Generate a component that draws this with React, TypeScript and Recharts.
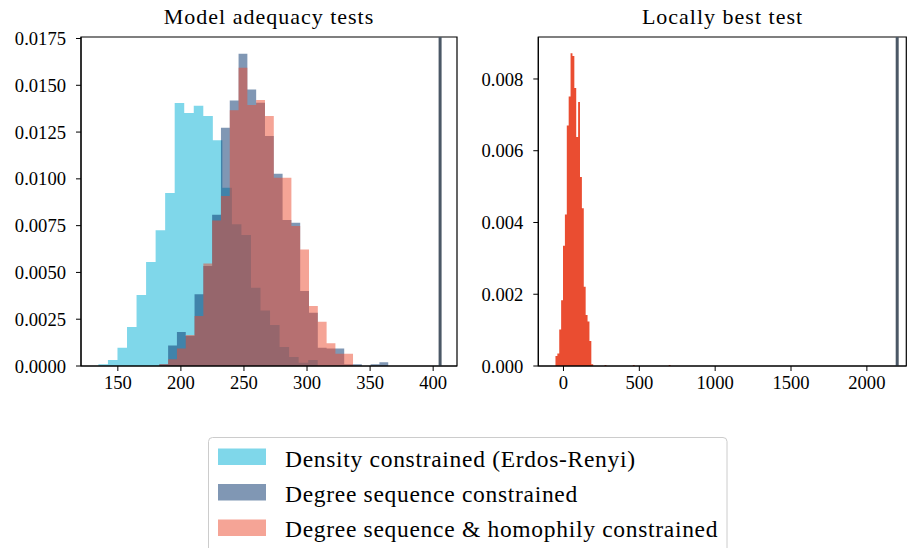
import React from "react";
import {
  ComposedChart,
  Area,
  XAxis,
  YAxis,
  ReferenceLine,
  ReferenceArea,
} from "recharts";

const FONT = '"Liberation Serif", "DejaVu Serif", serif';

// Model adequacy tests: density histograms (first bin edge, bin width, density per bin)
const densityStart = 134.6;
const densityWidth = 7.56;
const densityHeights = [
  0.00009, 0.00032, 0.00098, 0.00208, 0.00379, 0.00556, 0.00725, 0.00924,
  0.01405, 0.01352, 0.01391, 0.01336, 0.01206, 0.00953, 0.00757, 0.007,
  0.00418, 0.00297, 0.00219, 0.00102, 0.00048, 0.00018, 0.00032,
];

const degreeStart = 182.9;
const degreeWidth = 6.98;
const degreeHeights = [
  0.0001, 0.0011, 0.00182, 0.0016, 0.00383, 0.00534, 0.00808, 0.01273,
  0.01419, 0.01669, 0.01478, 0.01407, 0.01229, 0.01027, 0.0078, 0.00766,
  0.00401, 0.00285, 0.00098, 0.00094, 0.00094, 0.00009, 0.00009, 0, 0.00009,
  0.0002,
];

const homophilyStart = 182.9;
const homophilyWidth = 6.98;
const homophilyHeights = [
  0.0001, 0.00036, 0.00093, 0.00166, 0.00267, 0.00548, 0.00778, 0.00908,
  0.01366, 0.01594, 0.01394, 0.01421, 0.01336, 0.01006, 0.01006, 0.00748,
  0.00623, 0.00321, 0.00237, 0.00121, 0.00066, 0.00066,
];

const adequacyObserved = 405.5;
const adequacyXTicks = [150, 200, 250, 300, 350, 400];
const adequacyYTicks = [0, 0.0025, 0.005, 0.0075, 0.01, 0.0125, 0.015, 0.0175];

// Locally best test
const lbStart = -52.8;
const lbWidth = 12.44;
const lbHeights = [
  0.00028, 0.00035, 0.00102, 0.00183, 0.00335, 0.00422, 0.0067, 0.00751,
  0.00872, 0.00864, 0.00775, 0.00638, 0.00736, 0.00527, 0.0044, 0.00221,
  0.00142, 0.00124, 0.0007, 0.00005,
];
const lbOutlierBins = [26, 41, 60];
const lbOutlierHeights = [0.00003, 0.00003, 0.00003];
const lbObserved = 2200;
const lbXTicks = [0, 500, 1000, 1500, 2000];
const lbYTicks = [0, 0.002, 0.004, 0.006, 0.008];

const legendLabels = [
  "Density constrained (Erdos-Renyi)",
  "Degree sequence constrained",
  "Degree sequence & homophily constrained",
];

const CYAN = "#00afd5";
const NAVY = "#012f69";
const RED = "#eb492d";

function histPoints(start: number, width: number, heights: number[]) {
  const pts = heights.map((h, i) => ({ x: start + i * width, y: h }));
  pts.push({ x: start + heights.length * width, y: heights[heights.length - 1] });
  return pts;
}

const lbAll: number[] = [];
for (let i = 0; i <= lbOutlierBins[lbOutlierBins.length - 1]; i++) {
  lbAll.push(i < lbHeights.length ? lbHeights[i] : 0);
}
lbOutlierBins.forEach((b, i) => {
  lbAll[b] = lbOutlierHeights[i];
});

const tickStyle = { fill: "#000", fontSize: 18.6, fontFamily: FONT };

const adqXDomain = [120.8, 418.9];
const adqYDomain = [0, 0.01758];
const lbXDomain = [-166, 2260];
const lbYDomain = [0, 0.00917];

function AdequacyChart() {
  return (
    <ComposedChart
      width={470}
      height={420}
      margin={{ top: 37, right: 13, bottom: 24, left: 0 }}
    >
      <XAxis
        type="number"
        dataKey="x"
        domain={adqXDomain}
        ticks={adequacyXTicks}
        allowDataOverflow
        stroke="#000"
        tickSize={5}
        tickMargin={5}
        height={30}
        tick={tickStyle}
      />
      <YAxis
        type="number"
        domain={adqYDomain}
        ticks={adequacyYTicks}
        allowDataOverflow
        tickFormatter={(v: number) => v.toFixed(4)}
        stroke="#000"
        tickSize={5}
        tickMargin={10}
        width={81}
        tick={tickStyle}
      />
      <Area
        data={histPoints(densityStart, densityWidth, densityHeights)}
        dataKey="y"
        type="stepAfter"
        stroke="none"
        fill={CYAN}
        fillOpacity={0.5}
        dot={false}
        activeDot={false}
        isAnimationActive={false}
      />
      <Area
        data={histPoints(degreeStart, degreeWidth, degreeHeights)}
        dataKey="y"
        type="stepAfter"
        stroke="none"
        fill={NAVY}
        fillOpacity={0.5}
        dot={false}
        activeDot={false}
        isAnimationActive={false}
      />
      <Area
        data={histPoints(homophilyStart, homophilyWidth, homophilyHeights)}
        dataKey="y"
        type="stepAfter"
        stroke="none"
        fill={RED}
        fillOpacity={0.5}
        dot={false}
        activeDot={false}
        isAnimationActive={false}
      />
      <ReferenceLine x={adequacyObserved} stroke="#4b5866" strokeWidth={3} />
      <ReferenceArea
        x1={adqXDomain[0]}
        x2={adqXDomain[1]}
        y1={adqYDomain[0]}
        y2={adqYDomain[1]}
        fill="none"
        stroke="#000"
        strokeWidth={1.2}
        ifOverflow="visible"
      />
    </ComposedChart>
  );
}

function LocallyBestChart() {
  return (
    <ComposedChart
      width={437}
      height={420}
      margin={{ top: 37, right: 0.7, bottom: 24, left: 0 }}
    >
      <XAxis
        type="number"
        dataKey="x"
        domain={lbXDomain}
        ticks={lbXTicks}
        allowDataOverflow
        stroke="#000"
        tickSize={5}
        tickMargin={5}
        height={30}
        tick={tickStyle}
      />
      <YAxis
        type="number"
        domain={lbYDomain}
        ticks={lbYTicks}
        allowDataOverflow
        tickFormatter={(v: number) => v.toFixed(3)}
        stroke="#000"
        tickSize={5}
        tickMargin={10}
        width={68.3}
        tick={tickStyle}
      />
      <Area
        data={histPoints(lbStart, lbWidth, lbAll)}
        dataKey="y"
        type="stepAfter"
        stroke="none"
        fill="#ea4d31"
        fillOpacity={1}
        dot={false}
        activeDot={false}
        isAnimationActive={false}
      />
      <ReferenceLine x={lbObserved} stroke="#4b5866" strokeWidth={3} />
      <ReferenceArea
        x1={lbXDomain[0]}
        x2={lbXDomain[1]}
        y1={lbYDomain[0]}
        y2={lbYDomain[1]}
        fill="none"
        stroke="#000"
        strokeWidth={1.2}
        ifOverflow="visible"
      />
    </ComposedChart>
  );
}

export default function App() {
  const legendColors = [CYAN, NAVY, RED];
  return (
    <div
      style={{
        position: "relative",
        width: 907,
        height: 548,
        overflow: "hidden",
        background: "#fff",
        fontFamily: FONT,
      }}
    >
      <style>{`body{margin:0} svg text, .recharts-text{font-family:${FONT} !important}`}</style>
      <div style={{ position: "absolute", left: 0, top: 0 }}>
        <AdequacyChart />
      </div>
      <div style={{ position: "absolute", left: 470, top: 0 }}>
        <LocallyBestChart />
      </div>
      <svg
        width={907}
        height={548}
        style={{ position: "absolute", left: 0, top: 0, pointerEvents: "none" }}
        fontFamily={FONT}
      >
        <text x={269} y={23.5} textAnchor="middle" fontSize={22} letterSpacing={1}>
          Model adequacy tests
        </text>
        <text x={722.5} y={23.5} textAnchor="middle" fontSize={22} letterSpacing={1}>
          Locally best test
        </text>
        <rect
          x={208.5}
          y={437.5}
          width={518.5}
          height={140}
          rx={4}
          fill="#fff"
          stroke="#cccccc"
        />
        {legendLabels.map((label, i) => (
          <g key={label}>
            <rect
              x={218}
              y={448.5 + i * 35.5}
              width={48}
              height={16.5}
              fill={legendColors[i]}
              fillOpacity={0.5}
            />
            <text x={285} y={466.5 + i * 35.2} fontSize={23.5} letterSpacing={0.7}>
              {label}
            </text>
          </g>
        ))}
      </svg>
    </div>
  );
}
